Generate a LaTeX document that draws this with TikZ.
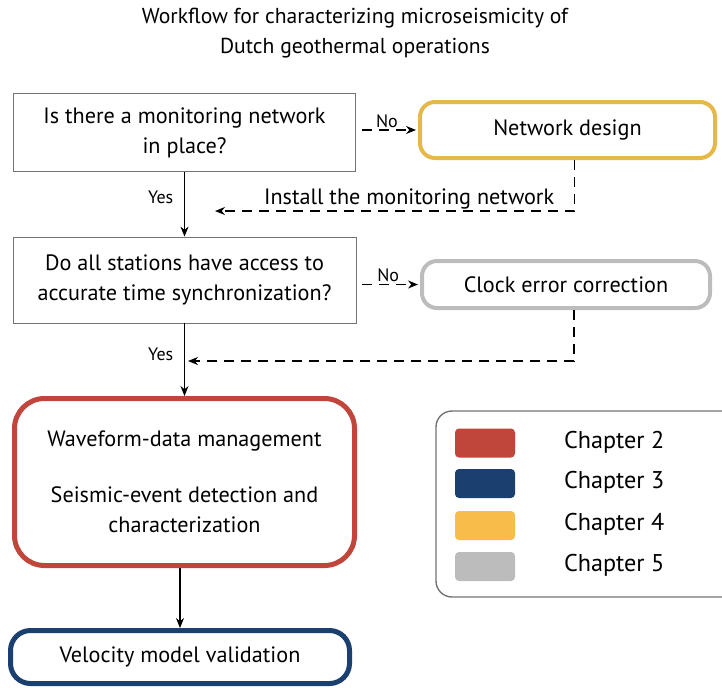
\documentclass[tikz,border=0pt]{standalone}
\usepackage{fontspec}
\setmainfont{PT Sans}
\usetikzlibrary{arrows.meta}
\usetikzlibrary{calc}

\definecolor{chtwo}{HTML}{C0453A}
\definecolor{chthree}{HTML}{1B3F6E}
\definecolor{chfour}{HTML}{F7BC4A}
\definecolor{chfourline}{HTML}{E6B84A}
\definecolor{chfive}{HTML}{BBBCBB}

\begin{document}
\begin{tikzpicture}[x=0.5pt,y=-0.5pt,
    every node/.style={font=\fontsize{11.1}{15}\selectfont},
    small/.style={font=\fontsize{9}{11}\selectfont},
    question/.style={draw=black!55,line width=0.4pt,align=center,inner sep=0pt},
    task/.style={rounded corners=7.5pt,line width=2pt,align=center,inner sep=0pt},
    flow/.style={-{Stealth[length=5pt,width=4pt]},line width=0.6pt},
    back/.style={flow,dash pattern=on 5pt off 3.5pt}]
                \useasboundingbox (0,0) rectangle (722,687);
                \node[align=center,font=\fontsize{10.8}{15}\selectfont] (title) at (355,33) {Workflow for characterizing microseismicity of\\Dutch geothermal operations};
                \node[question,minimum width=171pt,minimum height=39pt] (q1) at (184.5,132.5) {Is there a monitoring network\\in place?};
                \node[task,draw=chfourline,minimum width=147.5pt,minimum height=28pt] (net) at (567.5,130) {Network design};
                \node[question,minimum width=171.5pt,minimum height=43pt] (q2) at (184.5,280) {Do all stations have access to\\accurate time synchronization?};
                \node[task,draw=chfive,minimum width=144pt,minimum height=23.5pt] (clk) at (566,284.5) {Clock error correction};
                \node[task,draw=chtwo,line width=2.5pt,rounded corners=15pt,minimum width=170pt,minimum height=83.5pt] (wave) at (184.5,482) {Waveform-data management\\[13pt]Seismic-event detection and\\characterization};
                \node[task,draw=chthree,line width=2.5pt,rounded corners=10pt,minimum width=169.5pt,minimum height=26.5pt] (vel) at (180,657) {Velocity model validation};
                \coordinate (instEnd) at (215,211);
                \coordinate (clkEnd) at (188,361);
                \draw[back,shorten <=3pt,shorten >=1pt] (net.west -| q1.east) to node[small,above,inner sep=1pt] {No} (net.west);
                \draw[back,shorten <=3pt,shorten >=1pt] (clk.west -| q2.east) to node[small,above,inner sep=1pt] {No} (clk.west);
                \draw[flow] (q1) to node[small,pos=0.4,left,xshift=-2pt] {Yes} (q2);
                \draw[flow] (q2) to node[small,pos=0.43,left,xshift=-2pt] {Yes} (wave);
                \draw[flow] (wave.south -| vel) to (vel);
                \draw[back] ([xshift=3.5pt]net.south) |- node[pos=0.73,above,inner sep=0.5pt] {Install the monitoring network} (instEnd);
                \draw[back] ([xshift=4pt]clk.south) |- (clkEnd);
                % legend
                \draw[draw=black!55,line width=0.7pt,rounded corners=8pt] (436,411) rectangle (760,597);
                \foreach \col/\num/\y in {chtwo/2/443, chthree/3/483.5, chfour/4/525.5, chfive/5/566.5} {
                    \node[fill=\col,rounded corners=2pt,minimum width=30pt,minimum height=14.5pt,inner sep=0pt] (sw\num) at (485,\y) {};
                    \node[anchor=west,font=\fontsize{12.1}{14}\selectfont] (lab\num) at (557,\y-1) {Chapter \num};
                }
            \end{tikzpicture}
\end{document}
